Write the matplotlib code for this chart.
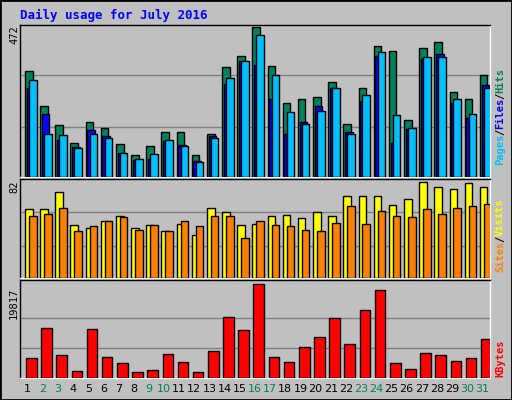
import matplotlib.pyplot as plt

days = list(range(1, 32))
weekend = [2, 3, 9, 10, 16, 17, 23, 24, 30, 31]

hits = [334, 224, 163, 108, 173, 153, 105, 70, 99, 141, 141, 70, 137, 347, 382, 472,
        350, 234, 247, 253, 298, 166, 282, 414, 398, 179, 408, 424, 269, 247, 321]
files = [279, 198, 118, 95, 147, 128, 76, 54, 57, 115, 102, 50, 128, 292, 366, 353,
         247, 134, 173, 224, 282, 141, 240, 382, 108, 150, 372, 388, 234, 186, 289]
pages = [305, 137, 131, 92, 134, 124, 76, 57, 73, 118, 99, 47, 124, 311, 366, 446,
         321, 205, 166, 208, 279, 137, 260, 395, 195, 153, 379, 379, 247, 198, 282]
visits = [59, 59, 73, 45, 43, 49, 53, 43, 45, 40, 46, 37, 60, 56, 45, 46,
          53, 54, 51, 56, 53, 70, 70, 70, 62, 67, 82, 78, 76, 81, 78]
sites = [53, 55, 60, 40, 44, 49, 52, 41, 45, 40, 49, 44, 53, 53, 34, 49,
         45, 44, 41, 40, 47, 61, 46, 57, 53, 52, 59, 55, 60, 61, 63]
kbytes = [4194, 10485, 4845, 1374, 10269, 4411, 3110, 1157, 1591, 5062, 3327, 1157,
          5713, 12873, 10053, 19817, 4411, 3327, 6581, 8534, 12656, 7232, 14392,
          18515, 3110, 1808, 5280, 4845, 3544, 4194, 8100]

BG = '#C0C0C0'
GRID = '#808080'
GREEN = '#00805C'
W, H = 512, 400

fig = plt.figure(figsize=(5.12, 4.0), dpi=100, facecolor=BG)
mono = 'DejaVu Sans Mono'

def panel(y0, y1):
    ax = fig.add_axes([20 / W, 1 - y1 / H, 470 / W, (y1 - y0) / H])
    ax.set_facecolor(BG)
    ax.set_xlim(0, 31)
    ax.set_xticks([])
    ax.set_yticks([])
    for s in ax.spines.values():
        s.set_color('black')
        s.set_linewidth(1)
    ax.spines['bottom'].set_color('white')
    ax.spines['right'].set_color('white')
    return ax

x0 = [d - 1 for d in days]
kw = dict(align='edge', edgecolor='black', linewidth=1, zorder=3)

ax1 = panel(25, 177)
ax1.set_ylim(0, 472 * 1.015)
for g in (157, 321):
    ax1.axhline(g, color=GRID, lw=1, zorder=1)
ax1.bar([x + 0.33 for x in x0], hits, 0.5, color=GREEN, **kw)
ax1.bar([x + 0.44 for x in x0], files, 0.5, color='#0000FF', **kw)
ax1.bar([x + 0.59 for x in x0], pages, 0.5, color='#00BFFF', **kw)

ax2 = panel(179, 278)
ax2.set_ylim(0, 82 * 1.03)
for g in (27, 56):
    ax2.axhline(g, color=GRID, lw=1, zorder=1)
ax2.bar([x + 0.33 for x in x0], visits, 0.5, color='#FFFF00', **kw)
ax2.bar([x + 0.59 for x in x0], sites, 0.5, color='#FF8000', **kw)

ax3 = panel(280, 378)
ax3.set_ylim(0, 19817 * 1.04)
for g in (6300, 12600):
    ax3.axhline(g, color=GRID, lw=1, zorder=1)
ax3.bar([x + 0.4 for x in x0], kbytes, 0.7, color='#FF0000', **kw)

fig.text(20 / W, 1 - 15 / H, 'Daily usage for July 2016', color='#0000FF',
         family=mono, weight='bold', fontsize=9, va='center', ha='left')

for txt, y in (('472', 35), ('82', 187), ('19817', 303)):
    fig.text(14 / W, 1 - y / H, txt, rotation=90, family=mono, fontsize=7.5,
             ha='center', va='center')

for d in days:
    fig.text((20 + (d - 0.5) * 470 / 31) / W, 1 - 389 / H, str(d),
             color=GREEN if d in weekend else 'black', fontsize=8,
             ha='center', va='center', family='DejaVu Sans')

def side_label(parts, ybottom):
    y = ybottom
    for txt, col in parts:
        t = fig.text(500 / W, 1 - y / H, txt, rotation=90, color=col,
                     family=mono, weight='bold', fontsize=7.5,
                     ha='center', va='bottom')
        y -= len(txt) * 6.0

side_label([('Pages', '#00BFFF'), ('/', 'black'), ('Files', '#0000FF'),
            ('/', 'black'), ('Hits', GREEN)], 165)
side_label([('Sites', '#FF8000'), ('/', 'black'), ('Visits', '#FFFF00')], 272)
side_label([('KBytes', '#FF0000')], 377)

fig.patches.append(plt.Rectangle((0, 0), 1, 1, transform=fig.transFigure,
                                 fill=False, edgecolor='black', lw=2))
fig.savefig('out.png', dpi=100, facecolor=BG)
